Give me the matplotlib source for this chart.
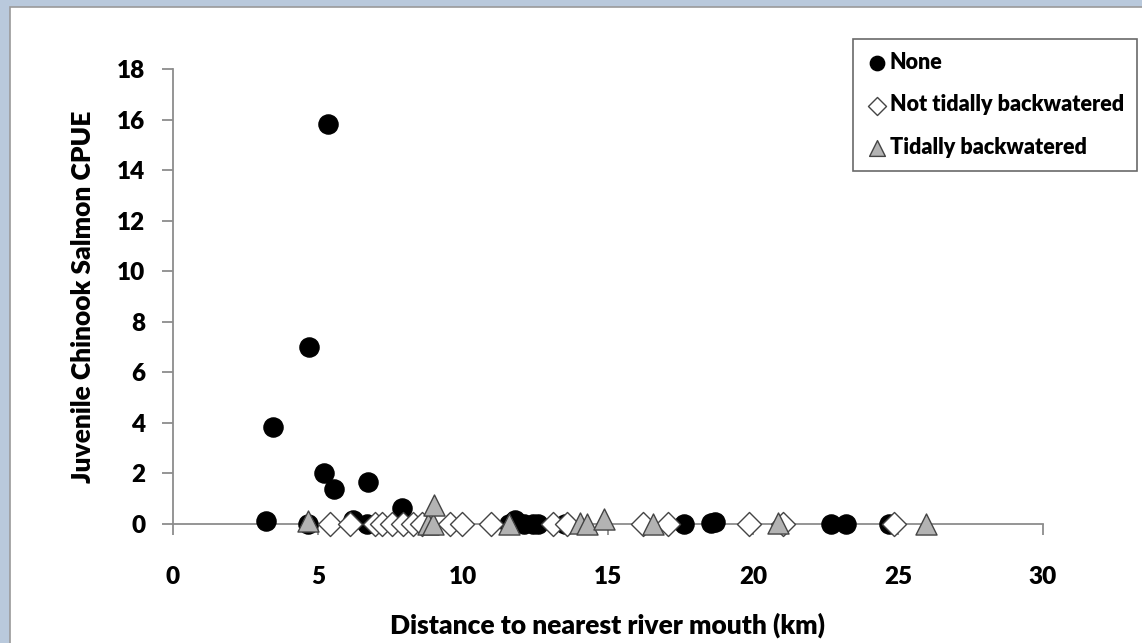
import matplotlib.pyplot as plt
import matplotlib.patches as patches

# CPUE by distance, split by tidal backwater class
none_x = [3.2, 3.45, 4.66, 4.69, 5.21, 5.33, 5.56, 6.2, 6.68, 6.74, 7.91,
          11.6, 11.8, 12.1, 12.4, 12.6, 13.5, 17.62, 18.55, 18.7, 22.7, 23.2, 24.7]
none_y = [0.1, 3.85, 0.0, 6.99, 2.0, 15.82, 1.37, 0.16, 0.0, 1.66, 0.62,
          0.0, 0.15, 0.0, 0.0, 0.0, 0.0, 0.0, 0.05, 0.08, 0.0, 0.0, 0.0]

not_tidal_x = [5.41, 6.1, 6.97, 7.2, 7.54, 7.94, 8.28, 8.57, 9.55, 9.95, 10.95,
               13.12, 13.58, 16.2, 17.07, 19.86, 21.03, 24.85]
not_tidal_y = [0.0] * len(not_tidal_x)

tidal_x = [4.64, 8.8, 8.97, 9.0, 11.6, 14.03, 14.28, 14.85, 16.55, 20.85, 25.95]
tidal_y = [0.1, 0.0, 0.0, 0.75, 0.0, 0.05, 0.0, 0.2, 0.0, 0.05, 0.0]

xticks = [0, 5, 10, 15, 20, 25, 30]
yticks = [0, 2, 4, 6, 8, 10, 12, 14, 16, 18]

plt.rcParams['font.family'] = ['Lato', 'DejaVu Sans']
plt.rcParams['font.weight'] = 'heavy'

fig = plt.figure(figsize=(11.42, 6.43), dpi=100)
fig.patch.set_facecolor('#b9c9dc')

# white slide panel behind the chart
bg = fig.add_axes([0, 0, 1, 1], zorder=0)
bg.set_xlim(0, 1142)
bg.set_ylim(643, 0)
bg.axis('off')
bg.add_patch(patches.Rectangle((10, 7), 1140, 640, facecolor='white',
                               edgecolor='#9a9a9a', linewidth=1.2))

ax = fig.add_axes([173 / 1142, 1 - 524 / 643, 870 / 1142, 455 / 643], zorder=1)
ax.set_facecolor('none')

ax.scatter(none_x, none_y, s=190, marker='o', color='black', edgecolor='black',
           label='None', zorder=3, clip_on=False)
ax.scatter(not_tidal_x, not_tidal_y, s=150, marker='D', facecolor='white',
           edgecolor='#444444', linewidth=1.0, label='Not tidally backwatered',
           zorder=4, clip_on=False)
ax.scatter(tidal_x, tidal_y, s=230, marker='^', facecolor='#b3b3b3',
           edgecolor='#444444', linewidth=1.0, label='Tidally backwatered',
           zorder=5, clip_on=False)

ax.set_xlim(0, 30)
ax.set_ylim(0, 18)
ax.set_xticks(xticks)
ax.set_yticks(yticks)
for s in ['top', 'right']:
    ax.spines[s].set_visible(False)
for s in ['left', 'bottom']:
    ax.spines[s].set_color('#8c8c8c')
    ax.spines[s].set_linewidth(1.3)
ax.tick_params(axis='both', colors='#8c8c8c', labelcolor='black',
               labelsize=17.5, width=1.3, length=8)
ax.tick_params(axis='x', pad=22)
ax.tick_params(axis='y', pad=12)
for lab in ax.get_xticklabels() + ax.get_yticklabels():
    lab.set_fontweight('heavy')

ax.set_xlabel('Distance to nearest river mouth (km)', fontsize=19,
              fontweight='heavy', labelpad=18)
ax.set_ylabel('Juvenile Chinook Salmon CPUE', fontsize=19,
              fontweight='heavy', labelpad=16)

leg = ax.legend(loc='upper left', bbox_to_anchor=(853 / 1142, 1 - 39 / 643),
                bbox_transform=fig.transFigure, frameon=True, fancybox=False,
                edgecolor='#444444', handletextpad=0.1, borderaxespad=0,
                handlelength=1.0, labelspacing=1.0, borderpad=0.6,
                markerscale=0.75, prop={'weight': 'heavy', 'size': 15.5})
leg.get_frame().set_linewidth(1.2)

fig.savefig('out.png', dpi=100, facecolor=fig.get_facecolor())
